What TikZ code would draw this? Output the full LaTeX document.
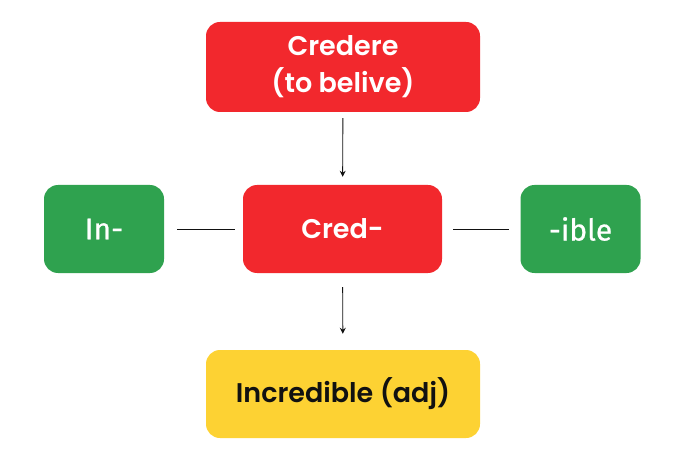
\documentclass[tikz,border=0pt]{standalone}
\usepackage{fontspec}
\setmainfont{Poppins}[BoldFont={Poppins SemiBold}]
\newfontfamily\affixfont{Fira Sans}[FakeBold=0.6]
\usetikzlibrary{arrows.meta,positioning}
\definecolor{wordred}{HTML}{F2282D}
\definecolor{wordgreen}{HTML}{2FA24F}
\definecolor{wordgold}{HTML}{FDD233}
\definecolor{wordink}{HTML}{111111}

\begin{document}
\begin{tikzpicture}[
        x=1pt,y=1pt,>=Latex,
        link/.style={draw=wordink,line width=.9pt},
        flow/.style={link,-{Stealth[length=6pt,width=6pt]}},
        wordbox/.style={rectangle,rounded corners=14pt,inner sep=0pt,
          align=center,font=\fontsize{27}{37}\selectfont\bfseries},
        affix/.style={wordbox,fill=wordgreen,text=white,
          minimum width=120pt,minimum height=88pt,
          font=\affixfont\fontsize{30}{36}\selectfont}
      ]
        \useasboundingbox (0,0) rectangle (700,466);

        \node[wordbox,fill=wordred,text=white,minimum width=274pt,
          minimum height=90pt] (latin) at (343,399) {Credere\\(to belive)};
        \node[wordbox,fill=wordred,text=white,minimum width=199pt,
          minimum height=88pt] (root) at (342.5,237) {Cred-};
        \node[affix] (prefix) at (104,237) {In-};
        \node[affix] (suffix) at (580.5,237) {-ible};
        \node[wordbox,fill=wordgold,text=wordink,minimum width=274pt,
          minimum height=88pt] (word) at (343,72) {Incredible (adj)};

        \draw[flow,shorten <=6pt,shorten >=8pt] (latin) -- (root);
        \draw[flow,shorten <=14pt,shorten >=16pt] (root) -- (word);
        \draw[link,shorten <=13pt,shorten >=8pt] (prefix) -- (root);
        \draw[link,shorten <=11pt,shorten >=11pt] (root) -- (suffix);
      \end{tikzpicture}
\end{document}
